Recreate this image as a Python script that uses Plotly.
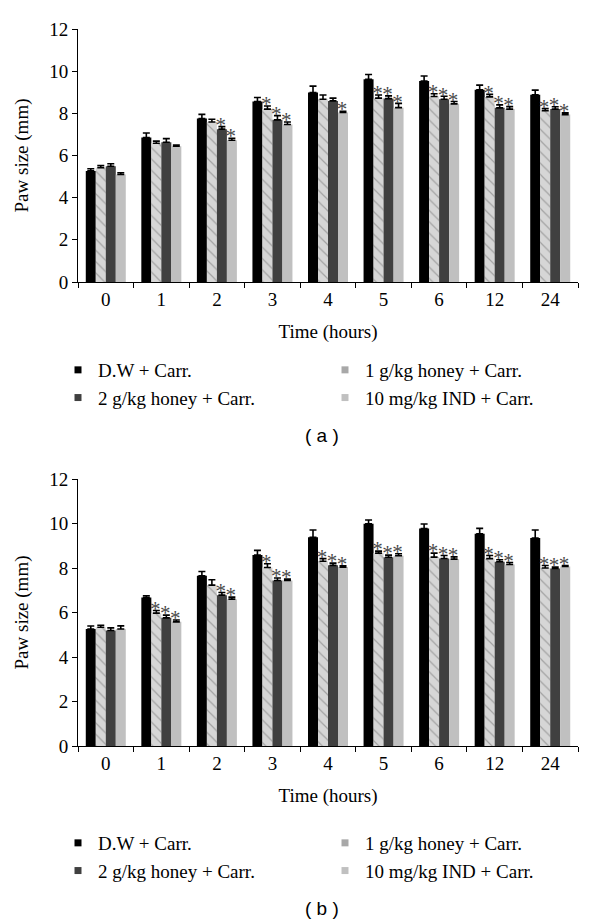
import plotly.graph_objects as go

times = ["0", "1", "2", "3", "4", "5", "6", "12", "24"]
series_names = ["D.W + Carr.", "1 g/kg honey + Carr.", "2 g/kg honey + Carr.", "10 mg/kg IND + Carr."]

# Panel (a) means and SEM
a_dw = [5.27, 6.85, 7.75, 8.56, 8.99, 9.62, 9.53, 9.12, 8.88]
a_h1 = [5.42, 6.58, 7.59, 8.20, 8.67, 8.72, 8.80, 8.78, 8.13]
a_h2 = [5.49, 6.63, 7.25, 7.69, 8.59, 8.70, 8.67, 8.26, 8.20]
a_ind = [5.10, 6.44, 6.72, 7.47, 8.04, 8.27, 8.45, 8.20, 7.94]
a_dw_err = [0.10, 0.22, 0.20, 0.19, 0.30, 0.22, 0.24, 0.22, 0.22]
a_h1_err = [0.10, 0.10, 0.13, 0.15, 0.20, 0.15, 0.13, 0.12, 0.10]
a_h2_err = [0.12, 0.17, 0.12, 0.20, 0.13, 0.13, 0.14, 0.14, 0.11]
a_ind_err = [0.08, 0.06, 0.10, 0.12, 0.06, 0.20, 0.11, 0.12, 0.08]
a_dw_sig = [0, 0, 0, 0, 0, 0, 0, 0, 0]
a_h1_sig = [0, 0, 0, 1, 0, 1, 1, 1, 1]
a_h2_sig = [0, 0, 1, 1, 0, 1, 1, 1, 1]
a_ind_sig = [0, 0, 1, 1, 1, 1, 1, 1, 1]

# Panel (b) means and SEM
b_dw = [5.26, 6.67, 7.65, 8.58, 9.38, 9.99, 9.77, 9.54, 9.35]
b_h1 = [5.34, 5.97, 7.23, 8.02, 8.30, 8.67, 8.49, 8.42, 8.00]
b_h2 = [5.19, 5.76, 6.78, 7.44, 8.12, 8.48, 8.43, 8.28, 7.98]
b_ind = [5.26, 5.58, 6.60, 7.44, 8.04, 8.55, 8.40, 8.16, 8.07]
b_dw_err = [0.13, 0.08, 0.19, 0.21, 0.33, 0.17, 0.21, 0.24, 0.36]
b_h1_err = [0.09, 0.12, 0.24, 0.17, 0.12, 0.09, 0.18, 0.14, 0.11]
b_h2_err = [0.12, 0.12, 0.12, 0.11, 0.10, 0.10, 0.13, 0.09, 0.06]
b_ind_err = [0.14, 0.08, 0.09, 0.06, 0.06, 0.09, 0.10, 0.09, 0.04]
b_dw_sig = [0, 0, 0, 0, 0, 0, 0, 0, 0]
b_h1_sig = [0, 1, 0, 1, 1, 1, 1, 1, 1]
b_h2_sig = [0, 1, 1, 1, 1, 1, 1, 1, 1]
b_ind_sig = [0, 1, 1, 1, 1, 1, 1, 1, 1]

yticks = [0, 2, 4, 6, 8, 10, 12]

colors = ["#000000", "#d6d6d6", "#404040", "#c0c0c0"]
SERIF = "Liberation Serif"
BARGAP = 0.28
nser = 4
bw = (1 - BARGAP) / nser
xidx = list(range(len(times)))

panels = [
    ("x", "y", [a_dw, a_h1, a_h2, a_ind], [a_dw_err, a_h1_err, a_h2_err, a_ind_err],
     [a_dw_sig, a_h1_sig, a_h2_sig, a_ind_sig], ("legend", "legend2")),
    ("x2", "y2", [b_dw, b_h1, b_h2, b_ind], [b_dw_err, b_h1_err, b_h2_err, b_ind_err],
     [b_dw_sig, b_h1_sig, b_h2_sig, b_ind_sig], ("legend3", "legend4")),
]

fig = go.Figure()
for xa, ya, vals, errs, sigs, legs in panels:
    for j in range(nser):
        pattern = dict(shape="\\", fgcolor="#6e6e6e", size=8, solidity=0.15) if j == 1 else dict(shape="")
        fig.add_trace(go.Bar(
            x=xidx, y=vals[j], xaxis=xa, yaxis=ya, name=series_names[j],
            marker=dict(color=colors[j], line=dict(width=0), pattern=pattern),
            error_y=dict(type="data", array=errs[j], arrayminus=[0] * len(times), symmetric=False,
                         color="#000000", thickness=1.6, width=3.5),
            offsetgroup=str(j), showlegend=False,
        ))
        # asterisks marking significance
        sx, sy = [], []
        for i in xidx:
            if sigs[j][i]:
                sx.append(i + (j - (nser - 1) / 2) * bw - 0.02)
                sy.append(vals[j][i] + errs[j][i])
        if sx:
            fig.add_trace(go.Scatter(
                x=sx, y=sy, xaxis=xa, yaxis=ya, mode="text", text=["*"] * len(sx),
                textposition="middle center",
                textfont=dict(family=SERIF, size=21, color="#4a4a4a"),
                showlegend=False, hoverinfo="skip",
            ))
    # legend proxies (two columns)
    for j in range(nser):
        fig.add_trace(go.Scatter(
            x=[None], y=[None], xaxis=xa, yaxis=ya, mode="markers", name=series_names[j],
            marker=dict(symbol="square", size=7, color=colors[j] if j != 1 else "#a8a8a8",
                        line=dict(width=0)),
            legend=legs[0] if j in (0, 2) else legs[1], showlegend=True,
        ))

axis_common = dict(showline=True, linecolor="#000000", linewidth=1, showgrid=False, zeroline=False,
                   automargin=False,
                   tickfont=dict(family=SERIF, size=19, color="#000000"))

xcommon = dict(axis_common, range=[-0.5, len(times) - 0.5], tickmode="array", tickvals=xidx,
               ticktext=times, ticks="",
               minor=dict(tickmode="array", tickvals=[i - 0.5 for i in range(len(times) + 1)],
                          ticks="outside", ticklen=5, tickcolor="#000000", tickwidth=1),
               title=dict(text="Time (hours)", font=dict(family=SERIF, size=19, color="#000000")))
ycommon = dict(axis_common, range=[0, 12], tickmode="array", tickvals=yticks, ticks="outside",
               ticklen=5, tickcolor="#000000",
               title=dict(text="Paw size (mm)", font=dict(family=SERIF, size=19, color="#000000")))

# page body adds an 8px offset; figure is sized to fit the 600x924 window
OFF = 8
W, HGT = 600 - OFF, 924 - OFF
top_a, bot_a, top_b, bot_b = 29, 282, 479, 746
L, R = 78 - OFF, 600 - 578
T, B = top_a - OFF, 924 - bot_b
H = bot_b - top_a

def py(pix):
    return (bot_b - pix) / H

def px(pix):
    return (pix - 78) / 500

legend_common = dict(orientation="v", xanchor="left", yanchor="top", bgcolor="rgba(0,0,0,0)",
                     font=dict(family=SERIF, size=19, color="#000000"), tracegroupgap=0)

fig.update_layout(
    width=W, height=HGT, paper_bgcolor="white", plot_bgcolor="white",
    margin=dict(l=L, r=R, t=T, b=B, autoexpand=False),
    barmode="group", bargap=BARGAP, bargroupgap=0,
    xaxis=dict(xcommon, domain=[0, 1], anchor="y"),
    yaxis=dict(ycommon, domain=[py(bot_a), 1], anchor="x"),
    xaxis2=dict(xcommon, domain=[0, 1], anchor="y2"),
    yaxis2=dict(ycommon, domain=[0, py(top_b)], anchor="x2"),
    legend=dict(legend_common, x=px(58), y=py(351)),
    legend2=dict(legend_common, x=px(325), y=py(351)),
    legend3=dict(legend_common, x=px(58), y=py(824)),
    legend4=dict(legend_common, x=px(325), y=py(824)),
    annotations=[
        dict(text="( a )", xref="paper", yref="paper", x=px(322), y=py(435), showarrow=False,
             font=dict(family="Liberation Sans", size=19, color="#000000"), xanchor="center", yanchor="middle"),
        dict(text="( b )", xref="paper", yref="paper", x=px(322), y=py(908), showarrow=False,
             font=dict(family="Liberation Sans", size=19, color="#000000"), xanchor="center", yanchor="middle"),
    ],
)

fig.write_html("out.html")
